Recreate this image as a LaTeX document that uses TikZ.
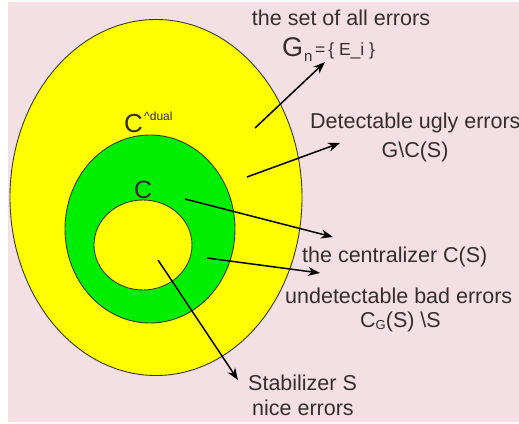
\documentclass[tikz,border=0pt]{standalone}
\usepackage{fontspec}
\setmainfont{Liberation Sans}
\usetikzlibrary{arrows.meta}
\definecolor{my_pink}{HTML}{F3DFE4}
\definecolor{my_yellow}{HTML}{FFFF00}
\definecolor{my_green}{HTML}{00EE00}
\definecolor{my_edge}{HTML}{3A3A20}
\definecolor{my_text}{HTML}{342E2E}

\begin{document}
\begin{tikzpicture}[
    x=1pt, y=-1pt,
    region/.style={draw=my_edge, line width=0.9pt},
    errtext/.style={my_text, inner sep=0pt, font=\fontsize{21.5}{24}\selectfont},
    pointer/.style={black, line width=1.5pt, -{Stealth[length=12pt, width=9pt]}}
]

% -------- Canvas ---------------------------------------------
\useasboundingbox (0, 0) rectangle (519, 423);
\fill[white] (0, 0) rectangle (519, 423);
\fill[my_pink] (8, 2) rectangle (519, 422);

% -------- Nested sets ----------------------------------------
% all errors G_n
\draw[region, fill=my_yellow] (156, 197.5) ellipse [x radius=146, y radius=178];
% C^dual (centralizer)
\draw[region, fill=my_green]  (150, 229) ellipse [x radius=85, y radius=94];
% C (stabilizer)
\draw[region, fill=my_yellow] (143, 245) ellipse [x radius=49, y radius=45];

% Set names inside the picture
\node[errtext, anchor=base west, font=\fontsize{26}{28}\selectfont]
    (cdual) at (124, 132) {C};
\node[errtext, anchor=base west, font=\fontsize{12}{14}\selectfont]
    (cdualsup) at (144, 120) {\textasciicircum dual};
\node[errtext, anchor=base west, font=\fontsize{25}{28}\selectfont]
    (cinner) at (134, 198) {C};

% -------- Labels on the right --------------------------------
\node[errtext, anchor=base] (allset) at (341, 25) {the set of all errors};
\node[errtext, anchor=base west, font=\fontsize{27}{30}\selectfont]
    (gn) at (282, 56) {G};
\node[errtext, anchor=base west, font=\fontsize{15}{17}\selectfont]
    (gnsub) at (304, 61) {n};
\node[errtext, anchor=base west, font=\fontsize{17.5}{20}\selectfont]
    (gnset) at (315, 55) {=\,\{ E\_i \}};

\node[errtext, anchor=base west] (ugly) at (310, 128) {Detectable ugly errors};
\node[errtext, anchor=base] (uglyset) at (415, 157) {G\textbackslash C(S)};

\node[errtext, anchor=base west] (central) at (302, 262) {the centralizer C(S)};

\node[errtext, anchor=base west] (bad) at (285, 303) {undetectable bad errors};
\node[errtext, anchor=base west] (badset) at (360, 327)
    {C{\fontsize{13}{15}\selectfont\raisebox{-2pt}{G}}(S) \textbackslash S};

\node[errtext, anchor=base west] (stab) at (248, 390) {Stabilizer S};
\node[errtext, anchor=base west] (nice) at (252, 415) {nice errors};

% -------- Pointers -------------------------------------------
\coordinate (p1s) at (255, 128);  \coordinate (p1e) at (325, 62);
\coordinate (p2s) at (247, 177);  \coordinate (p2e) at (340, 143);
\coordinate (p3s) at (185, 199);  \coordinate (p3e) at (333, 237);
\coordinate (p4s) at (207, 258);  \coordinate (p4e) at (320, 273);
\coordinate (p5s) at (158, 260);  \coordinate (p5e) at (238, 380);
\draw[pointer] (p1s) -- (p1e);
\draw[pointer] (p2s) -- (p2e);
\draw[pointer] (p3s) -- (p3e);
\draw[pointer] (p4s) -- (p4e);
\draw[pointer] (p5s) -- (p5e);

\end{tikzpicture}
\end{document}
